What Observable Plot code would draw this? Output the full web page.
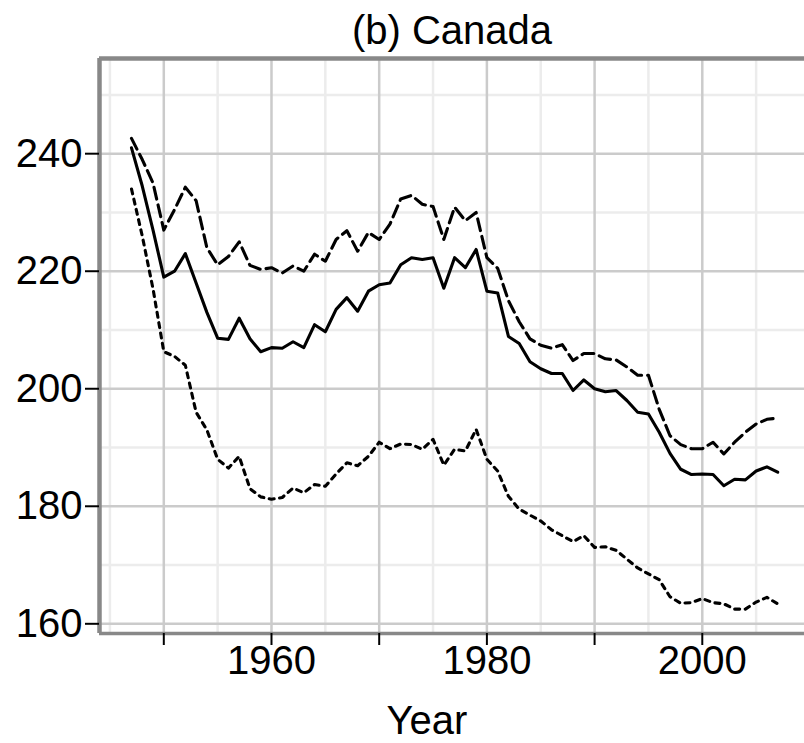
<!DOCTYPE html>
<html>
<head>
<meta charset="utf-8">
<script src="https://cdn.jsdelivr.net/npm/d3@7"></script>
<script src="https://cdn.jsdelivr.net/npm/@observablehq/plot@0.6"></script>
<style>
  html, body { margin: 0; padding: 0; background: #fff; }
  svg { display: block; }
</style>
</head>
<body>
<div id="chart"></div>
<script>
const years = [1947,1948,1949,1950,1951,1952,1953,1954,1955,1956,
  1957,1958,1959,1960,1961,1962,1963,1964,1965,1966,
  1967,1968,1969,1970,1971,1972,1973,1974,1975,1976,
  1977,1978,1979,1980,1981,1982,1983,1984,1985,1986,
  1987,1988,1989,1990,1991,1992,1993,1994,1995,1996,
  1997,1998,1999,2000,2001,2002,2003,2004,2005,2006,2007];

const solid = [241,234.5,227,219,220,223,218,213,208.6,208.4,
  212,208.5,206.3,207,206.9,208,207,210.9,209.7,213.5,
  215.5,213.2,216.6,217.7,218,221.1,222.3,222,222.3,217.1,
  222.3,220.6,223.7,216.6,216.3,208.9,207.7,204.6,203.4,202.6,
  202.6,199.7,201.5,200,199.5,199.7,198,196,195.7,192.6,
  189,186.3,185.4,185.5,185.4,183.5,184.6,184.5,186,186.7,185.8];

const longDash = [242.6,239,235,227,230.5,234.3,232,224,221.1,222.5,
  225,221,220.3,220.6,219.7,220.9,220,222.9,221.7,225.4,
  226.9,223.4,226.6,225.4,228,232.3,232.9,231.4,231,225.4,
  230.9,228.6,230,222.3,220.5,215,211.4,208.5,207.4,206.9,
  207.5,204.8,206,206,205.1,204.9,203.7,202.3,202.3,196.5,
  192,190.5,189.8,189.8,190.9,188.9,190.9,192.6,194,194.8,195];

const shortDash = [234,226,217,206.3,205.5,204,196,193,188,186.5,
  188.5,183,181.6,181.2,181.5,183.1,182.3,183.7,183.4,185.5,
  187.4,186.9,188.5,190.9,189.8,190.6,190.5,189.7,191.4,187,
  189.7,189.4,193.1,188,186,181.7,179.5,178.5,177.5,176,
  175,174,175,173,173.1,172.5,171,169.5,168.5,167.5,
  164.6,163.5,163.6,164.3,163.6,163.4,162.5,162.5,163.7,164.5,163.4];

const xTicks = [1950,1960,1970,1980,1990,2000];
const xTickLabels = [1960,1980,2000];
const xMinorGrid = [1945,1955,1965,1975,1985,1995,2005];
const yTicks = [160,180,200,220,240];
const yMinorGrid = [170,190,210,230,250];
const title = "(b) Canada";
const xLabel = "Year";

const xDomain = [1944.03, 2009.49];
const yDomain = [158.35, 256.2];

const toRows = (vals) => years.map((yr, i) => ({year: yr, value: vals[i]}));

const FONT = "'Liberation Sans', Arial, Helvetica, sans-serif";
const lineW = 3.1;

const chart = Plot.plot({
  width: 804,
  height: 743,
  marginLeft: 99,
  marginRight: 0,
  marginTop: 58,
  marginBottom: 110,
  style: {fontFamily: FONT, fontSize: "40px", background: "#fff", color: "#000"},
  x: {domain: xDomain, axis: null},
  y: {domain: yDomain, axis: null},
  marks: [
    Plot.gridX(xMinorGrid, {stroke: "#ececec", strokeOpacity: 1, strokeWidth: 2.5}),
    Plot.gridY(yMinorGrid, {stroke: "#ececec", strokeOpacity: 1, strokeWidth: 2.5}),
    Plot.gridX(xTicks, {stroke: "#cbcbcb", strokeOpacity: 1, strokeWidth: 2.5}),
    Plot.gridY(yTicks, {stroke: "#cbcbcb", strokeOpacity: 1, strokeWidth: 2.5}),
    Plot.line(toRows(shortDash), {x: "year", y: "value", stroke: "#000", strokeWidth: lineW, strokeDasharray: "5,5.5"}),
    Plot.line(toRows(longDash), {x: "year", y: "value", stroke: "#000", strokeWidth: lineW, strokeDasharray: "12,6"}),
    Plot.line(toRows(solid), {x: "year", y: "value", stroke: "#000", strokeWidth: lineW}),
    Plot.ruleX([xDomain[0]], {stroke: "#888", strokeWidth: 4.5}),
    Plot.ruleY([yDomain[1]], {stroke: "#888", strokeWidth: 4.5}),
    Plot.ruleY([yDomain[0]], {stroke: "#888", strokeWidth: 3.5}),
    Plot.axisY(yTicks, {anchor: "left", tickSize: 14, tickPadding: 3, strokeWidth: 2, tickFormat: d => String(d), label: null, fontSize: 40, fill: "#000"}),
    Plot.axisX(xTicks, {anchor: "bottom", tickSize: 12, tickPadding: 0, strokeWidth: 2, tickFormat: d => xTickLabels.includes(d) ? String(d) : "", label: null, fontSize: 40, fill: "#000"}),
    Plot.text([title], {frameAnchor: "top", lineAnchor: "bottom", dy: -15, fontSize: 40, fill: "#000"}),
    Plot.text([xLabel], {frameAnchor: "bottom", lineAnchor: "bottom", dy: 100, dx: -25, fontSize: 40, fill: "#000"})
  ]
});

document.getElementById("chart").appendChild(chart);
</script>
</body>
</html>
